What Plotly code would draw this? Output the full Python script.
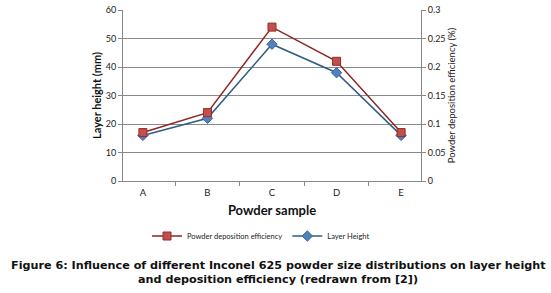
import plotly.graph_objects as go

samples = ["A", "B", "C", "D", "E"]
layer_height = [16, 22, 48, 38, 16]
deposition_eff = [0.085, 0.12, 0.27, 0.21, 0.085]
left_ticks = [0, 10, 20, 30, 40, 50, 60]
right_ticks = [0, 0.05, 0.1, 0.15, 0.2, 0.25, 0.3]

W, H = 551, 293
PLOT_L, PLOT_R, PLOT_TOP, PLOT_BOTTOM = 123, 421, 10, 181
PLOT_H = PLOT_BOTTOM - PLOT_TOP
PLOT_W = PLOT_R - PLOT_L

fig = go.Figure()
fig.add_trace(go.Scatter(
    x=samples, y=deposition_eff, name="Powder deposition efficiency", yaxis="y2",
    mode="lines+markers",
    line=dict(color="#8E2422", width=1.5),
    marker=dict(symbol="square", size=8, color="#C0504D", line=dict(color="#9B2B28", width=1)),
))
fig.add_trace(go.Scatter(
    x=samples, y=layer_height, name="Layer Height", yaxis="y",
    mode="lines+markers",
    line=dict(color="#2F5C86", width=1.5),
    marker=dict(symbol="diamond", size=8, color="#4F81BD", line=dict(color="#3A6A9A", width=1)),
))

tickfont = dict(family="Lato, Liberation Sans, sans-serif", size=9, color="#222")
fig.update_layout(
    width=W, height=H,
    margin=dict(l=PLOT_L, r=W - PLOT_R, t=PLOT_TOP, b=H - PLOT_BOTTOM, autoexpand=False),
    paper_bgcolor="white", plot_bgcolor="white",
    showlegend=True,
    legend=dict(orientation="h", x=261 / W, xanchor="center", xref="container",
                y=1 - 236 / H, yanchor="middle", yref="container",
                font=dict(family="Lato, sans-serif", size=7.5, color="#222"), traceorder="normal",
                itemwidth=30),
    xaxis=dict(
        type="category", tickson="boundaries", ticks="outside", ticklen=4, tickcolor="#888",
        showline=True, linecolor="#888", linewidth=1, showgrid=False, ticklabelstandoff=3,
        tickfont=dict(family="Lato, sans-serif", size=9.5, color="#222"),
        title=dict(text="<b>Powder sample</b>", font=dict(family="Lato, sans-serif", size=13, color="#111"), standoff=8),
    ),
    yaxis=dict(
        range=[0, 60], tickvals=left_ticks, ticks="outside", ticklen=4, tickcolor="#888",
        showline=True, linecolor="#888", linewidth=1,
        showgrid=True, gridcolor="#8a8a8a", gridwidth=1, zeroline=False,
        tickfont=tickfont,
        title=dict(text="<b>Layer height (mm)</b>", font=dict(family="Lato, sans-serif", size=11, color="#111"), standoff=1),
    ),
    yaxis2=dict(
        range=[0, 0.3], tickvals=right_ticks, overlaying="y", side="right",
        ticks="outside", ticklen=4, tickcolor="#888",
        showline=True, linecolor="#888", linewidth=1, showgrid=False, zeroline=False,
        tickfont=tickfont,
        title=dict(text="Powder deposition efficiency (%)", font=dict(family="Lato, sans-serif", size=9.5, color="#222"), standoff=2),
    ),
)

cap_x = (278 - PLOT_L) / PLOT_W
fig.add_annotation(
    text="<b>Figure 6: Influence of different Inconel 625 powder size distributions on layer height</b>",
    xref="paper", yref="paper", x=cap_x, y=(PLOT_BOTTOM - 265) / PLOT_H, xanchor="center", yanchor="middle",
    showarrow=False, font=dict(family="DejaVu Sans, sans-serif", size=11.2, color="#111"),
)
fig.add_annotation(
    text="<b>and deposition efficiency (redrawn from [2])</b>",
    xref="paper", yref="paper", x=cap_x, y=(PLOT_BOTTOM - 279) / PLOT_H, xanchor="center", yanchor="middle",
    showarrow=False, font=dict(family="DejaVu Sans, sans-serif", size=11.2, color="#111"),
)
fig.write_html("out.html", config={"displayModeBar": False},
               post_script="document.body.style.margin='0';document.body.style.overflow='hidden';")
